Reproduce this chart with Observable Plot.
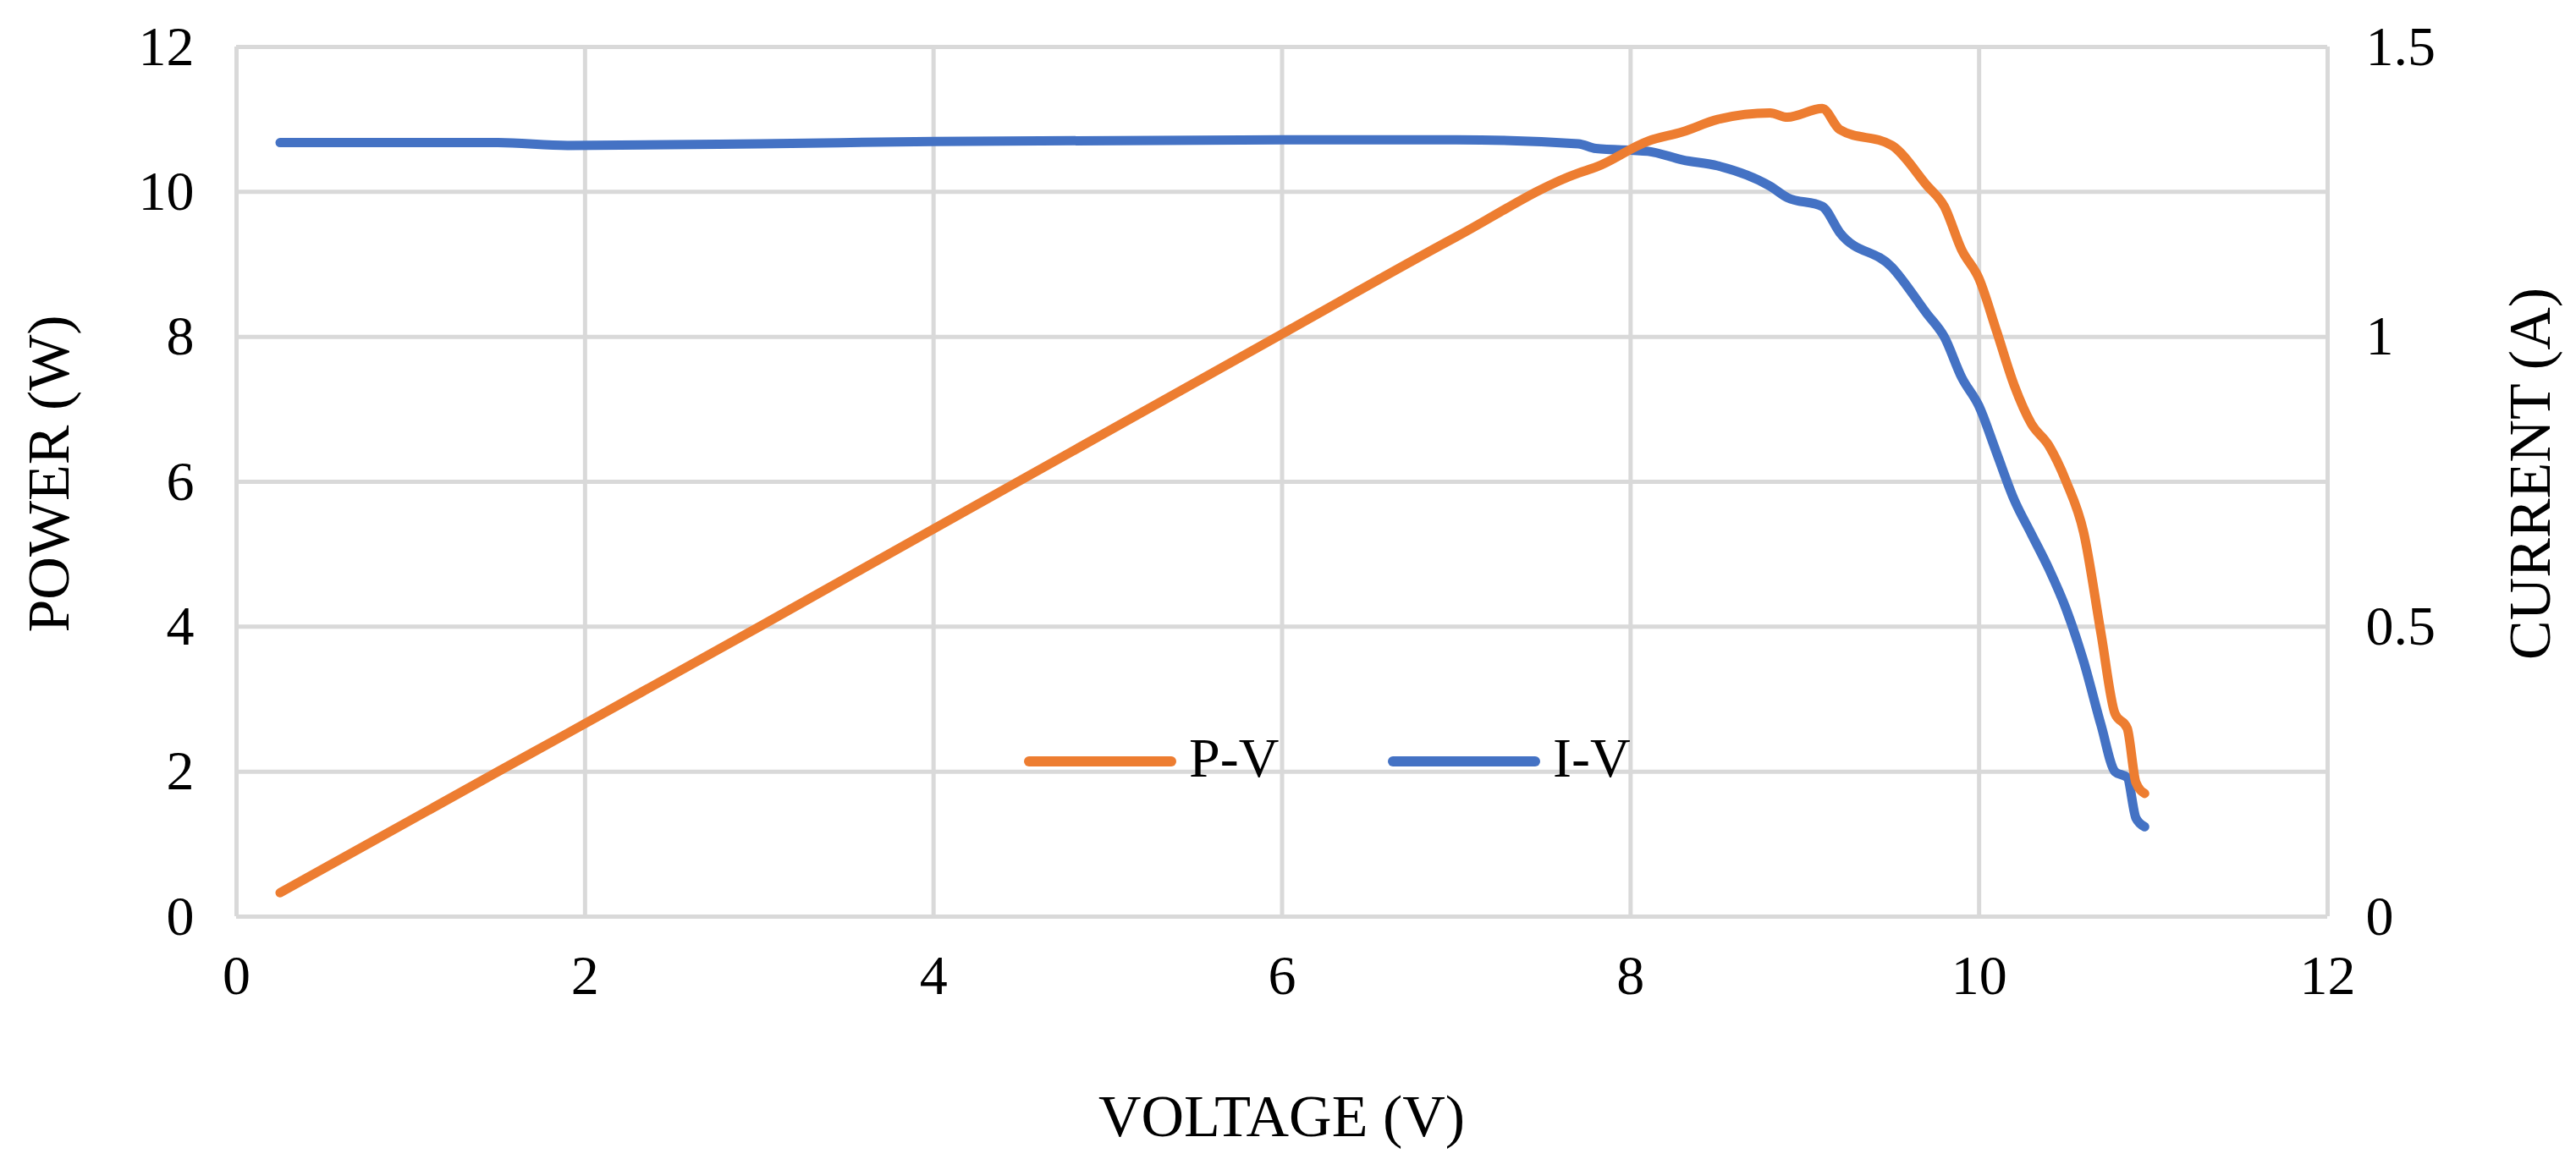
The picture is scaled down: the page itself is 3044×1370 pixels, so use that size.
<!DOCTYPE html>
<html><head>
<script src="https://cdn.jsdelivr.net/npm/d3@7"></script>
<script src="https://cdn.jsdelivr.net/npm/@observablehq/plot@0.6"></script>
<style>body{margin:0;background:#fff}#c{position:relative;width:3044px;height:1370px;font-family:"Liberation Serif",serif}</style>
</head><body><div id="c"></div>
<script>
const voltage = [0.25,1.5,1.9,3,4,6,7,7.7,7.8,8.1,8.3,8.5,8.8,8.9,9.1,9.2,9.5,9.7,9.8,9.9,10,10.1,10.2,10.3,10.4,10.5,10.6,10.7,10.78,10.85,10.9,10.95];
const current = [1.335,1.335,1.33,1.333,1.337,1.34,1.34,1.333,1.325,1.32,1.305,1.295,1.26,1.24,1.225,1.18,1.12,1.04,1.0,0.93,0.88,0.8,0.72,0.66,0.6,0.53,0.44,0.33,0.25,0.24,0.17,0.155];
const power = [0.33,2.0,2.53,4.0,5.35,8.04,9.38,10.26,10.34,10.7,10.83,11.0,11.09,11.03,11.15,10.86,10.64,10.09,9.8,9.2,8.8,8.08,7.34,6.8,6.5,6.0,5.3,3.9,2.8,2.6,1.85,1.7];
const xTicks=[0,2,4,6,8,10,12], yTicks=[0,2,4,6,8,10,12], iTicks=[0,0.5,1,1.5];
const k=8;
const pv=voltage.map((v,i)=>({v,y:power[i]})), iv=voltage.map((v,i)=>({v,y:current[i]*k}));
const chart=Plot.plot({width:3044,height:1370,marginLeft:279,marginRight:294,marginTop:55,marginBottom:287,
 style:{fontFamily:"Liberation Serif, serif",fontSize:"66px",color:"#000",background:"#fff"},
 x:{domain:[0,12]}, y:{domain:[0,12]},
 marks:[
  Plot.gridX(xTicks,{stroke:"#d9d9d9",strokeOpacity:1,strokeWidth:5}),
  Plot.gridY(yTicks,{stroke:"#d9d9d9",strokeOpacity:1,strokeWidth:5}),
  Plot.axisX(xTicks,{tickSize:0,tickPadding:45,label:null,tickFormat:d=>String(d)}),
  Plot.axisY(yTicks,{tickSize:0,tickPadding:50,label:null,tickFormat:d=>String(d)}),
  Plot.axisY(iTicks.map(d=>d*k),{anchor:"right",tickSize:0,tickPadding:45,textAnchor:"start",tickFormat:d=>String(d/k),label:null}),
  Plot.line(iv,{x:"v",y:"y",stroke:"#4472c4",strokeWidth:11,strokeLinecap:"round",strokeLinejoin:"round",curve:"monotone-x"}),
  Plot.line(pv,{x:"v",y:"y",stroke:"#ed7d31",strokeWidth:11,strokeLinecap:"round",strokeLinejoin:"round",curve:"monotone-x"})
 ]});
const c=document.getElementById("c");c.appendChild(chart);
function t(txt,css){const d=document.createElement("div");d.textContent=txt;d.style.cssText="position:absolute;font-size:70px;white-space:nowrap;"+css;c.appendChild(d);}
t("VOLTAGE (V)","left:0;width:3029px;text-align:center;top:1280px");
t("POWER (W)","left:58px;top:560px;transform:translate(-50%,-50%) rotate(-90deg)");
t("CURRENT (A)","left:2990px;top:560px;transform:translate(-50%,-50%) rotate(-90deg)");
function leg(x,col,txt){const d=document.createElement("div");d.style.cssText=`position:absolute;left:${x}px;top:894px;width:180px;height:12px;border-radius:6px;background:${col}`;c.appendChild(d);t(txt,`left:${x+195}px;top:858px;font-size:66px`);}
leg(1210,"#ed7d31","P-V");leg(1640,"#4472c4","I-V");
</script></body></html>
